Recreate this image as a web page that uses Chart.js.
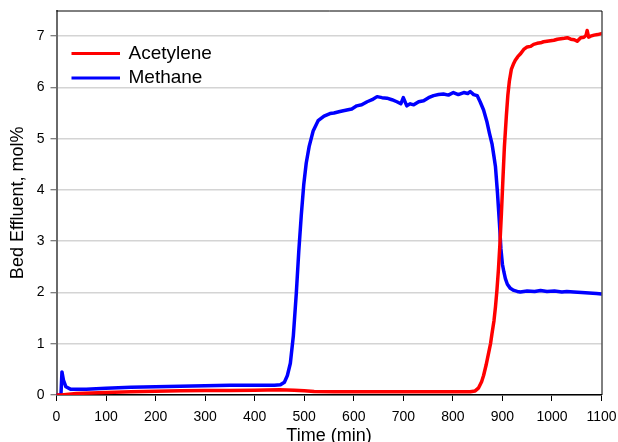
<!DOCTYPE html>
<html>
<head>
<meta charset="utf-8">
<title>Bed Effluent</title>
<script src="https://cdn.jsdelivr.net/npm/chart.js@4/dist/chart.umd.min.js"></script>
<style>
  html, body { margin: 0; padding: 0; background: #ffffff; overflow: hidden; }
  #wrap { width: 618px; height: 442px; }
</style>
</head>
<body>
<div id="wrap"><canvas id="c" width="618" height="442"></canvas></div>
<script>
// Series labels
const seriesNames = ['Acetylene', 'Methane'];
const seriesColors = ['#ff0000', '#0000ff'];

// Acetylene: time (min) and bed effluent (mol%)
const acetyleneTime = [0, 10, 20, 40, 70, 100, 150, 200, 250, 300, 350, 400, 450, 480, 500, 520, 560, 600, 650, 700, 750, 800, 835, 845, 852, 858, 862, 867, 872, 876, 879, 883, 886, 889, 892, 895, 898, 901, 904, 908, 911, 914, 918, 922, 926, 931, 936, 943, 950, 957, 963, 970, 977, 983, 990, 997, 1004, 1011, 1018, 1025, 1031, 1038, 1045, 1051, 1058, 1065, 1069, 1071, 1074, 1078, 1085, 1092, 1100];
const acetyleneValue = [0.0, 0.0, 0.01, 0.03, 0.04, 0.05, 0.065, 0.075, 0.085, 0.09, 0.09, 0.095, 0.1, 0.095, 0.085, 0.07, 0.065, 0.065, 0.065, 0.065, 0.065, 0.065, 0.065, 0.08, 0.14, 0.26, 0.38, 0.58, 0.81, 1.0, 1.2, 1.45, 1.72, 2.05, 2.45, 2.95, 3.54, 4.2, 4.84, 5.45, 5.85, 6.12, 6.35, 6.45, 6.53, 6.6, 6.65, 6.74, 6.79, 6.8, 6.84, 6.86, 6.87, 6.89, 6.9, 6.91, 6.92, 6.94, 6.95, 6.96, 6.97, 6.94, 6.93, 6.9, 6.97, 6.98, 7.02, 7.11, 6.98, 7.0, 7.02, 7.03, 7.05];

// Methane: time (min) and bed effluent (mol%)
const methaneTime = [0, 9, 11, 14, 19, 29, 45, 60, 80, 100, 150, 200, 250, 300, 350, 400, 440, 452, 460, 466, 472, 478, 484, 489, 494, 499, 504, 510, 518, 528, 540, 552, 560, 572, 586, 596, 606, 616, 627, 637, 647, 657, 667, 677, 687, 695, 700, 707, 714, 721, 731, 741, 751, 761, 771, 781, 791, 801, 811, 822, 830, 835, 842, 849, 855, 862, 869, 874, 879, 883, 886, 890, 894, 897, 900, 903, 906, 910, 916, 923, 930, 936, 950, 965, 977, 990, 1005, 1020, 1030, 1044, 1060, 1075, 1090, 1100];
const methaneValue = [0.0, 0.0, 0.45, 0.29, 0.16, 0.11, 0.11, 0.11, 0.12, 0.13, 0.15, 0.16, 0.17, 0.18, 0.19, 0.19, 0.19, 0.2, 0.25, 0.38, 0.62, 1.15, 1.98, 2.8, 3.5, 4.1, 4.52, 4.85, 5.15, 5.35, 5.44, 5.49, 5.5, 5.53, 5.56, 5.58, 5.64, 5.66, 5.72, 5.76, 5.82, 5.8, 5.79, 5.76, 5.72, 5.68, 5.8, 5.64, 5.68, 5.66, 5.72, 5.74, 5.8, 5.84, 5.86, 5.87, 5.85, 5.9, 5.86, 5.9, 5.88, 5.92, 5.86, 5.84, 5.72, 5.56, 5.32, 5.1, 4.9, 4.65, 4.45, 3.95, 3.35, 2.85, 2.55, 2.4, 2.27, 2.16, 2.08, 2.04, 2.02, 2.01, 2.03, 2.02, 2.04, 2.02, 2.03, 2.01, 2.02, 2.01, 2.0, 1.99, 1.98, 1.97];

// Axis ranges and tick steps
const xRange = [0, 1100];
const xStep = 100;
const yRange = [0, 7.5];
const yStep = 1;

const FONT = "'Liberation Sans', Arial, sans-serif";

function toPoints(ts, vs) {
  return ts.map((t, i) => ({ x: t, y: vs[i] }));
}

// Frame on the top and right of the plot area, plus the in-plot legend
const framePlugin = {
  id: 'frameAndLegend',
  afterDraw(chart) {
    const { ctx, chartArea: a } = chart;
    ctx.save();
    ctx.strokeStyle = '#000000';
    ctx.lineWidth = 1;
    ctx.beginPath();
    ctx.moveTo(a.left, a.top + 0.5);
    ctx.lineTo(a.right + 0.5, a.top + 0.5);
    ctx.lineTo(a.right + 0.5, a.bottom);
    ctx.stroke();

    // legend entries
    ctx.font = '19px ' + FONT;
    ctx.textBaseline = 'middle';
    ctx.textAlign = 'left';
    chart.data.datasets.forEach((ds, i) => {
      const y = a.top + 43 + i * 24.4;
      ctx.strokeStyle = ds.borderColor;
      ctx.lineWidth = 3;
      ctx.beginPath();
      ctx.moveTo(a.left + 15, y);
      ctx.lineTo(a.left + 63.5, y);
      ctx.stroke();
      ctx.fillStyle = '#000000';
      ctx.fillText(ds.label, a.left + 72, y);
    });
    ctx.restore();
  }
};

function noEdgePadding(scale) {
  scale.paddingLeft = 0;
  scale.paddingRight = 0;
  scale.paddingTop = 0;
  scale.paddingBottom = 0;
}

const lineStyle = {
  borderWidth: 3.5,
  pointRadius: 0,
  tension: 0,
  borderJoinStyle: 'round',
  borderCapStyle: 'round'
};

new Chart(document.getElementById('c'), {
  type: 'line',
  data: {
    datasets: [
      Object.assign({
        label: seriesNames[0],
        data: toPoints(acetyleneTime, acetyleneValue),
        borderColor: seriesColors[0],
        backgroundColor: seriesColors[0]
      }, lineStyle),
      Object.assign({
        label: seriesNames[1],
        data: toPoints(methaneTime, methaneValue),
        borderColor: seriesColors[1],
        backgroundColor: seriesColors[1]
      }, lineStyle)
    ]
  },
  options: {
    responsive: false,
    animation: false,
    events: [],
    layout: { padding: { top: 10.5, right: 16.5, left: 0, bottom: 0 } },
    plugins: {
      legend: { display: false },
      tooltip: { enabled: false }
    },
    scales: {
      x: {
        type: 'linear',
        min: xRange[0],
        max: xRange[1],
        afterFit(scale) { scale.height = 47; noEdgePadding(scale); },
        ticks: {
          stepSize: xStep,
          color: '#000000',
          padding: 8,
          maxRotation: 0,
          font: { family: FONT, size: 14 },
          callback: (v) => String(v)
        },
        grid: {
          drawOnChartArea: false,
          tickLength: 6,
          tickColor: '#000000',
          tickWidth: 1
        },
        border: { color: '#000000', width: 1.5 },
        title: {
          display: true,
          text: 'Time (min)',
          color: '#000000',
          font: { family: FONT, size: 18, lineHeight: 0.66 },
          padding: { top: 0, bottom: 0 }
        }
      },
      y: {
        type: 'linear',
        min: yRange[0],
        max: yRange[1],
        afterFit(scale) { scale.width = 56.5; noEdgePadding(scale); },
        afterBuildTicks(scale) {
          scale.ticks = scale.ticks.filter(t => Number.isInteger(t.value));
        },
        ticks: {
          stepSize: yStep,
          color: '#000000',
          padding: 6,
          font: { family: FONT, size: 14 },
          callback: (v) => String(v)
        },
        grid: {
          color: '#d4d4d4',
          lineWidth: 1.5,
          tickLength: 6,
          tickColor: '#555555',
          tickWidth: 1
        },
        border: { color: '#6a6a6a', width: 2 },
        title: {
          display: true,
          text: 'Bed Effluent, mol%',
          color: '#000000',
          font: { family: FONT, size: 18 },
          padding: { top: 7.5, bottom: 0 }
        }
      }
    }
  },
  plugins: [framePlugin]
});
</script>
</body>
</html>
